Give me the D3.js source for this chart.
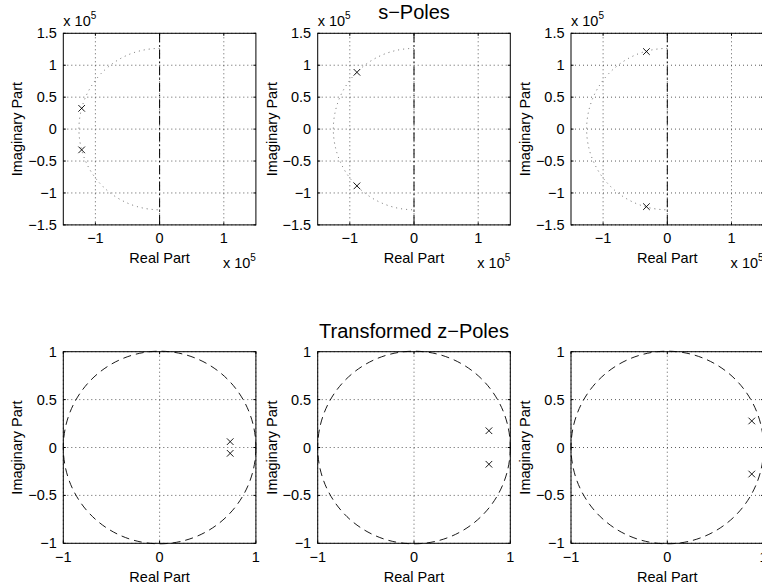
<!DOCTYPE html>
<html>
<head>
<meta charset="utf-8">
<script src="https://cdn.jsdelivr.net/npm/d3@7"></script>
<style>
  body { margin: 0; background: #fff; }
  svg { display: block; font-family: "Liberation Sans", Arial, sans-serif; }
</style>
</head>
<body>
<script>
// s-plane poles (rad/s), one pair per panel
const sPoleRe = [[-121400, -121400], [-88900, -88900], [-32500, -32500]];
const sPoleIm = [[32500, -32500], [88900, -88900], [121400, -121400]];
const cutoffRadius = 125660; // dotted semicircle in s-plane

// z-plane poles, one pair per panel
const zPoleRe = [[0.733, 0.733], [0.778, 0.778], [0.877, 0.877]];
const zPoleIm = [[0.061, -0.061], [0.175, -0.175], [0.277, -0.277]];

const sDomain = [-150000, 150000];
const sXTicks = [-100000, 0, 100000];
const sYTicks = [-150000, -100000, -50000, 0, 50000, 100000, 150000];
const zXTicks = [-1, 0, 1];
const zYTicks = [-1, -0.5, 0, 0.5, 1];

const W = 762, H = 585;
const colLeft = [63.3, 317.7, 571];
const boxW = 192.6;
const rowTop = [33.3, 351.7];
const boxH = 191.6;

const svg = d3.select("body").append("svg")
    .attr("width", W)
    .attr("height", H);

const fmt = v => (v < 0 ? "\u2212" : "") + Math.abs(v);

const drawPanel = function (col, row, opts) {
    const x0 = colLeft[col], y0 = rowTop[row];
    const x = d3.scaleLinear().domain(opts.domain).range([x0, x0 + boxW]);
    const y = d3.scaleLinear().domain(opts.domain).range([y0 + boxH, y0]);
    const g = svg.append("g");
    const unit = opts.unit;

    // grid
    g.selectAll(".vg").data(opts.xTicks).enter().append("line")
        .attr("x1", d => x(d)).attr("x2", d => x(d))
        .attr("y1", y0).attr("y2", y0 + boxH)
        .attr("stroke", "#333").attr("stroke-width", 0.8)
        .attr("stroke-dasharray", "1,3");
    g.selectAll(".hg").data(opts.yTicks).enter().append("line")
        .attr("x1", x0).attr("x2", x0 + boxW)
        .attr("y1", d => y(d)).attr("y2", d => y(d))
        .attr("stroke", "#333").attr("stroke-width", 0.8)
        .attr("stroke-dasharray", "1,3");

    opts.extras(g, x, y);

    // poles
    const pts = d3.zip(opts.re, opts.im);
    const mk = g.selectAll(".pole").data(pts).enter().append("g")
        .attr("transform", d => `translate(${x(d[0])},${y(d[1])})`);
    mk.append("path")
        .attr("d", "M-3.3,-3.3L3.3,3.3M-3.3,3.3L3.3,-3.3")
        .attr("stroke", "#000").attr("stroke-width", 0.9).attr("fill", "none");

    // ticks (inward)
    const tl = 2.5;
    opts.xTicks.forEach(t => {
        g.append("line").attr("x1", x(t)).attr("x2", x(t)).attr("y1", y0 + boxH).attr("y2", y0 + boxH - tl).attr("stroke", "#000");
        g.append("line").attr("x1", x(t)).attr("x2", x(t)).attr("y1", y0).attr("y2", y0 + tl).attr("stroke", "#000");
    });
    opts.yTicks.forEach(t => {
        g.append("line").attr("y1", y(t)).attr("y2", y(t)).attr("x1", x0).attr("x2", x0 + tl).attr("stroke", "#000");
        g.append("line").attr("y1", y(t)).attr("y2", y(t)).attr("x1", x0 + boxW).attr("x2", x0 + boxW - tl).attr("stroke", "#000");
    });

    // box
    g.append("rect").attr("x", x0).attr("y", y0).attr("width", boxW).attr("height", boxH)
        .attr("fill", "none").attr("stroke", "#000").attr("stroke-width", 1);

    // tick labels
    g.selectAll(".xl").data(opts.xTicks).enter().append("text")
        .attr("x", d => x(d)).attr("y", y0 + boxH + 18.5)
        .attr("text-anchor", "middle").attr("font-size", 14.5)
        .text(d => fmt(d / unit));
    g.selectAll(".yl").data(opts.yTicks).enter().append("text")
        .attr("x", x0 - 6.5).attr("y", d => y(d) + 5)
        .attr("text-anchor", "end").attr("font-size", 14.5)
        .text(d => fmt(d / unit));

    // axis labels
    g.append("text").attr("x", x0 + boxW / 2).attr("y", y0 + boxH + 38.5)
        .attr("text-anchor", "middle").attr("font-size", 14.5).text("Real Part");
    g.append("text")
        .attr("transform", `translate(${x0 - 41},${y0 + boxH / 2}) rotate(-90)`)
        .attr("text-anchor", "middle").attr("font-size", 14.5).text("Imaginary Part");

    if (unit !== 1) {
        const e1 = g.append("text").attr("x", x0).attr("y", y0 - 7).attr("font-size", 14.5);
        e1.append("tspan").text("x 10");
        e1.append("tspan").attr("font-size", 10).attr("dy", -7).text("5");
        const e2 = g.append("text").attr("x", x0 + boxW).attr("y", y0 + boxH + 43)
            .attr("text-anchor", "end").attr("font-size", 14.5);
        e2.append("tspan").text("x 10");
        e2.append("tspan").attr("font-size", 10).attr("dy", -7).text("5");
    }
};

for (let i = 0; i < 3; i++) {
    drawPanel(i, 0, {
        domain: sDomain, xTicks: sXTicks, yTicks: sYTicks, unit: 100000,
        re: sPoleRe[i], im: sPoleIm[i],
        extras: (g, x, y) => {
            const p = d3.path();
            p.arc(x(0), y(0), x(cutoffRadius) - x(0), -Math.PI / 2, Math.PI / 2, true);
            g.append("path").attr("d", p.toString())
                .attr("fill", "none").attr("stroke", "#444").attr("stroke-width", 0.8)
                .attr("stroke-dasharray", "1,4");
            g.append("line").attr("x1", x(0)).attr("x2", x(0))
                .attr("y1", y(sDomain[1])).attr("y2", y(sDomain[0]))
                .attr("stroke", "#000").attr("stroke-width", 1)
                .attr("stroke-dasharray", "9,3,1.5,3");
        }
    });
    drawPanel(i, 1, {
        domain: [-1, 1], xTicks: zXTicks, yTicks: zYTicks, unit: 1,
        re: zPoleRe[i], im: zPoleIm[i],
        extras: (g, x, y) => {
            g.append("circle").attr("cx", x(0)).attr("cy", y(0)).attr("r", x(1) - x(0))
                .attr("fill", "none").attr("stroke", "#000").attr("stroke-width", 0.9)
                .attr("stroke-dasharray", "8,5");
        }
    });
}

// titles
svg.append("text").attr("x", colLeft[1] + boxW / 2).attr("y", 18.5)
    .attr("text-anchor", "middle").attr("font-size", 20).text("s\u2212Poles");
svg.append("text").attr("x", colLeft[1] + boxW / 2).attr("y", 337.5)
    .attr("text-anchor", "middle").attr("font-size", 20).text("Transformed z\u2212Poles");
</script>
</body>
</html>
